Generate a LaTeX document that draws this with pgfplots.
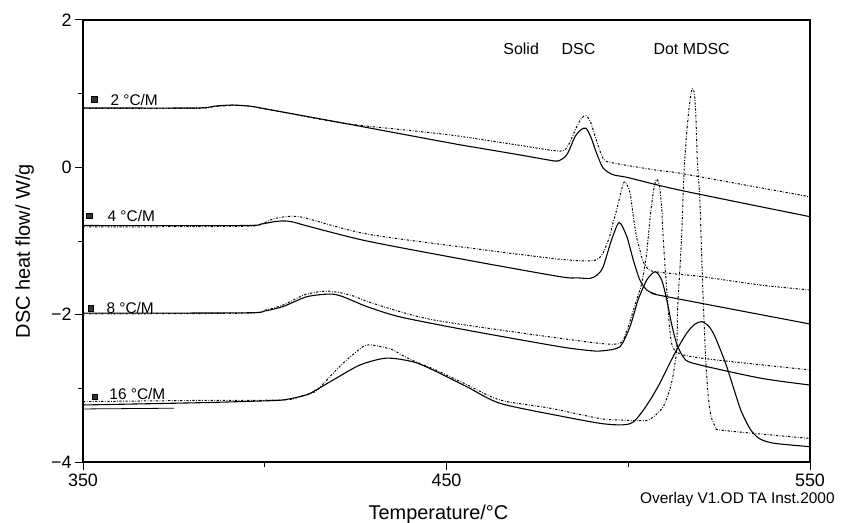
\documentclass[border=0pt]{standalone}
\usepackage{fontspec}
\setmainfont{Liberation Sans}
\usepackage{pgfplots}
\pgfplotsset{compat=1.18}

% conventional DSC traces (solid) and modulated DSC traces (dotted)
\pgfplotsset{
  dsc/.style={black, line width=1.1pt, smooth, tension=0.45},
  mdsc/.style={black, line width=1.0pt, smooth, tension=0.45,
    dash pattern=on 2.2pt off 1.6pt on 0.7pt off 1.6pt},
}

\begin{document}
\begin{tikzpicture}
\begin{axis}[
  scale only axis, width=727bp, height=442bp,
  xmin=350, xmax=550, ymin=-4, ymax=2,
  xtick={350,450,550}, xticklabels={350,450,550}, minor xtick={400,500},
  ytick={-4,-2,0,2}, yticklabels={−4,−2,0,2}, minor ytick={-3,-1,1},
  xtick pos=bottom, ytick pos=left,
  tick align=outside,
  major tick length=8bp, minor tick length=5bp,
  every tick/.style={black, line width=1pt},
  axis line style={line width=1.2pt},
  ticklabel style={font=\fontsize{18}{20}\selectfont},
  clip=false,
  xlabel={Temperature/°C},
  ylabel={DSC heat flow/ W/g},
  label style={font=\fontsize{20}{22}\selectfont},
  xlabel style={at={(axis description cs:0.388,-0.1312)}, anchor=base west},
  ylabel style={at={(axis description cs:-0.0729,0.2722)}, anchor=base west, rotate=0},
]

% ---------- 2 C/min ----------
\addplot[dsc] coordinates {
(350,0.806) (381,0.806) (386,0.83) (391,0.846) (396,0.83) (400,0.795)
(420,0.615) (451,0.33) (459.2,0.26) (470,0.17) (478,0.10) (480.7,0.086)
(483.1,0.17) (485.4,0.42) (487,0.51) (488.4,0.53) (489.8,0.40) (491.3,0.19)
(493.1,-0.01) (495.8,-0.10) (500,-0.14) (514.2,-0.31) (550,-0.67)};
\addplot[mdsc] coordinates {
(350,0.80) (381,0.80) (386,0.825) (391,0.84) (396,0.83) (400,0.795)
(421.5,0.60) (440,0.50) (451,0.44) (459.2,0.38) (470,0.30) (481.2,0.22)
(483.5,0.30) (485.8,0.55) (487.2,0.67) (488.4,0.70) (489.6,0.62) (490.9,0.42)
(493.1,0.12) (495.8,0.06) (508.7,-0.046) (514.2,-0.08) (550,-0.40)};

% ---------- 4 C/min ----------
\addplot[dsc] coordinates {
(350,-0.79) (394,-0.79) (399,-0.77) (403,-0.735) (405.5,-0.728) (408,-0.745)
(412,-0.80) (428.1,-1.0) (455.6,-1.258) (481.2,-1.484) (486,-1.50) (489.5,-1.507)
(491.5,-1.46) (493.1,-1.35) (495.4,-0.986) (497.5,-0.75) (499.6,-0.94)
(501.4,-1.26) (503.2,-1.53) (505.1,-1.665) (507.5,-1.72) (510.6,-1.756) (550,-2.127)};
\addplot[mdsc] coordinates {
(350,-0.81) (394,-0.80) (399,-0.77) (402.3,-0.70) (406,-0.67) (410.5,-0.68)
(428.1,-0.905) (459.2,-1.113) (481.2,-1.248) (489.5,-1.27) (491.8,-1.24)
(493.1,-1.16) (494.8,-0.95) (495.9,-0.74) (496.8,-0.58) (497.7,-0.40)
(498.5,-0.24) (499.2,-0.195) (500.5,-0.35) (501.4,-0.67) (502.3,-0.95)
(503.2,-1.12) (504.1,-1.28) (506,-1.40) (511.5,-1.44) (519.7,-1.48)
(536.2,-1.597) (550,-1.665)};

% ---------- 8 C/min ----------
\addplot[dsc] coordinates {
(350,-1.98) (394.6,-1.975) (400,-1.95) (405,-1.89) (411.6,-1.756) (418,-1.72)
(421.5,-1.756) (428.1,-1.89) (437.2,-2.03) (455.6,-2.21) (481.2,-2.435)
(490,-2.49) (493.1,-2.49) (497.7,-2.435) (500.5,-2.16) (502.7,-1.80)
(505.1,-1.53) (507.4,-1.417) (509.2,-1.53) (510.6,-1.80) (511.9,-2.12)
(513.3,-2.39) (515.1,-2.57) (517.9,-2.66) (536.2,-2.86) (550,-2.955)};
\addplot[mdsc] coordinates {
(350,-1.99) (394.6,-1.98) (400,-1.94) (405,-1.87) (411,-1.73) (417.1,-1.68)
(423.5,-1.733) (430,-1.85) (446.3,-2.07) (481.2,-2.32) (496.8,-2.40)
(499.6,-2.21) (502.3,-1.80) (503.7,-1.575) (505.0,-1.2) (505.5,-0.95)
(506.2,-0.6) (507.0,-0.3) (507.8,-0.163) (508.6,-0.25) (509.2,-0.55)
(509.6,-0.95) (510.2,-1.4) (510.8,-1.8) (511.4,-2.2) (512.3,-2.45)
(515.1,-2.547) (524.3,-2.615) (550,-2.751)};

% ---------- 16 C/min ----------
\addplot[dsc] coordinates {
(350,-3.226) (382.2,-3.195) (400,-3.17) (405,-3.158) (409,-3.12) (412.4,-3.07)
(418.8,-2.887) (426.2,-2.683) (433.5,-2.59) (440.8,-2.64) (446.3,-2.751)
(455.6,-2.978) (464.7,-3.203) (481.2,-3.375) (492.2,-3.475) (497.7,-3.497)
(500.5,-3.48) (502,-3.43) (504.1,-3.30) (506.5,-3.12) (508.7,-2.93)
(511,-2.70) (513.3,-2.48) (516.1,-2.25) (518.3,-2.13) (520.2,-2.095)
(522,-2.15) (523.4,-2.25) (525.3,-2.47) (527.1,-2.706) (529,-3.0)
(531,-3.3) (533.5,-3.55) (536,-3.68) (540,-3.745) (550,-3.792)};
\addplot[mdsc] coordinates {
(350,-3.18) (380,-3.165) (405,-3.158) (409.7,-3.11) (414,-3.04) (418.8,-2.795)
(422.5,-2.615) (427,-2.435) (429,-2.41) (432.5,-2.44) (435.3,-2.48)
(438.5,-2.57) (442,-2.65) (446.3,-2.735) (455.6,-2.95) (464.7,-3.158)
(478.5,-3.27) (492.2,-3.41) (497.7,-3.43) (503,-3.44) (506,-3.42)
(509.6,-3.25) (511.9,-2.93) (513.3,-2.48) (513.6,-1.9) (514.3,-1.3)
(514.8,-0.8) (515.3,-0.1) (515.9,0.35) (516.6,0.75) (517.2,0.98) (517.6,1.07)
(518.2,1.0) (518.6,0.69) (519.0,0.10) (519.7,-0.44) (520.2,-1.21)
(520.7,-1.9) (521.3,-2.6) (522.0,-3.1) (522.8,-3.38) (524,-3.52)
(526,-3.57) (550,-3.68)};
\addplot[black, line width=0.8pt] coordinates {(350,-3.28) (375,-3.27)};

% curve tags at the left end
\addplot[only marks, mark=square*, mark size=2.6pt, mark options={fill=black!80, draw=black}]
  coordinates {(353.1,0.924) (351.7,-0.66) (352.1,-1.913) (353.2,-3.11)};

\node[anchor=base west, font=\fontsize{15.5}{17}\selectfont] at (axis cs:356.6,0.846) {2 °C/M};
\node[anchor=base west, font=\fontsize{15.5}{17}\selectfont] at (axis cs:355.8,-0.738) {4 °C/M};
\node[anchor=base west, font=\fontsize{15.5}{17}\selectfont] at (axis cs:355.5,-1.98) {8 °C/M};
\node[anchor=base west, font=\fontsize{15.5}{17}\selectfont] at (axis cs:356.3,-3.158) {16 °C/M};

\node[anchor=base west, font=\fontsize{16}{18}\selectfont] at (axis cs:464.7,1.538) {Solid};
\node[anchor=base west, font=\fontsize{16}{18}\selectfont] at (axis cs:480.7,1.538) {DSC};
\node[anchor=base west, font=\fontsize{16}{18}\selectfont] at (axis cs:506.0,1.538) {Dot MDSC};
\node[anchor=base west, inner sep=0pt, font=\fontsize{15.5}{17}\selectfont] at (axis cs:503.2,-4.56) {Overlay V1.OD TA Inst.2000};
\end{axis}
\pgfresetboundingbox
\path[use as bounding box] ([shift={(-83bp,-61bp)}]current axis.south west) rectangle ++(843bp,523bp);
\end{tikzpicture}
\end{document}
